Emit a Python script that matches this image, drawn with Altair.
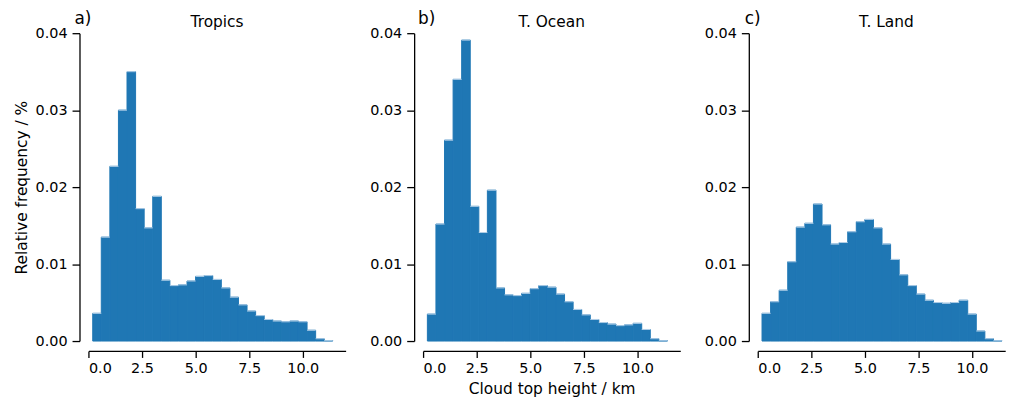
import altair as alt
import pandas as pd

# Histogram bin edges (km)
bin_edges = [0.2, 0.6, 1.0, 1.4, 1.8, 2.2, 2.6, 3.0, 3.4, 3.8, 4.2, 4.6, 5.0, 5.4,
             5.8, 6.2, 6.6, 7.0, 7.4, 7.8, 8.2, 8.6, 9.0, 9.4, 9.8, 10.2, 10.6, 11.0, 11.4]

tropics = [0.0036, 0.0135, 0.0227, 0.0300, 0.0350, 0.0172, 0.0147, 0.0188, 0.0079,
           0.0072, 0.0073, 0.0078, 0.0084, 0.0085, 0.0080, 0.0069, 0.0057, 0.0047,
           0.0039, 0.0033, 0.0028, 0.0026, 0.0025, 0.0026, 0.0025, 0.0014, 0.0003, 0.00005]
ocean = [0.0035, 0.0152, 0.0261, 0.0340, 0.0391, 0.0175, 0.0141, 0.0196, 0.0069,
         0.0060, 0.0059, 0.0062, 0.0068, 0.0072, 0.0070, 0.0061, 0.0051, 0.0041,
         0.0034, 0.0028, 0.0024, 0.0022, 0.0020, 0.0021, 0.0023, 0.0015, 0.0003, 0.00004]
land = [0.0036, 0.0051, 0.0066, 0.0103, 0.0148, 0.0153, 0.0178, 0.0151, 0.0126,
        0.0128, 0.0142, 0.0155, 0.0158, 0.0147, 0.0126, 0.0106, 0.0086, 0.0072,
        0.0061, 0.0053, 0.0050, 0.0049, 0.0050, 0.0053, 0.0035, 0.0013, 0.0003, 0.00004]

panel_titles = ["Tropics", "T. Ocean", "T. Land"]
panel_letters = ["a)", "b)", "c)"]
letter_dx = [-14, -5, -13]
x_max = [12, 12, 11.55]   # last panel's axis runs off the right edge in the original

x_ticks = [0, 2.5, 5, 7.5, 10]
y_ticks = [0, 0.01, 0.02, 0.03, 0.04]

FONT = "DejaVu Sans"
BLUE = "#1f77b4"
PX_PER_KM = 21.58
W_FULL, H = 259, 310


def panel(vals, title, letter, dx, xmax, show_ytitle, show_xtitle):
    df = pd.DataFrame({"x0": bin_edges[:-1], "x1": bin_edges[1:], "v": vals})
    w = round(xmax * PX_PER_KM, 1)
    x = alt.X("x0:Q",
              scale=alt.Scale(domain=[0, xmax], nice=False, zero=False, padding=0),
              axis=alt.Axis(values=x_ticks, format=".1f", offset=10, tickSize=6.5,
                            labelPadding=4, titlePadding=7),
              title="Cloud top height / km" if show_xtitle else None)
    y = alt.Y("v:Q",
              scale=alt.Scale(domain=[0, 0.04], nice=False, padding=0),
              axis=alt.Axis(values=y_ticks, format=".2f", offset=9, tickSize=7.5,
                            labelPadding=5, titlePadding=6),
              title="Relative frequency / %" if show_ytitle else None)
    bars = alt.Chart(df).mark_bar(color=BLUE, stroke=BLUE, strokeWidth=1).encode(
        x=x, x2="x1:Q", y=y, y2=alt.datum(0))
    tops = alt.Chart(df).mark_rule(color="#b3d0e8", strokeWidth=1).encode(
        x="x0:Q", x2="x1:Q", y="v:Q")
    txt = pd.DataFrame({"t": [letter, title], "kind": ["letter", "title"]})
    lab = alt.Chart(txt).transform_filter(alt.datum.kind == "letter").mark_text(
        align="left", baseline="alphabetic", fontSize=17, font=FONT, color="black"
    ).encode(text="t:N", x=alt.value(dx), y=alt.value(-9))
    ttl = alt.Chart(txt).transform_filter(alt.datum.kind == "title").mark_text(
        align="center", baseline="alphabetic", fontSize=15.5, font=FONT, color="black"
    ).encode(text="t:N", x=alt.value(W_FULL / 2), y=alt.value(-6))
    return alt.layer(bars, tops, lab, ttl).properties(width=w, height=H)


charts = [
    panel(tropics, panel_titles[0], panel_letters[0], letter_dx[0], x_max[0], True, False),
    panel(ocean, panel_titles[1], panel_letters[1], letter_dx[1], x_max[1], False, True),
    panel(land, panel_titles[2], panel_letters[2], letter_dx[2], x_max[2], False, False),
]

chart = alt.hconcat(*charts, spacing=78, bounds="flush").properties(
    padding={"left": 6, "top": 1, "right": 0, "bottom": 0}
).configure_view(
    strokeWidth=0
).configure_axis(
    grid=False, domainColor="black", tickColor="black", labelColor="black",
    titleColor="black", labelFont=FONT, titleFont=FONT, labelFontSize=14.5,
    titleFontSize=15.5, titleFontWeight="normal", domainWidth=1.3, tickWidth=1.3
)

chart.save("out.html", embed_options={"renderer": "svg", "actions": False})
